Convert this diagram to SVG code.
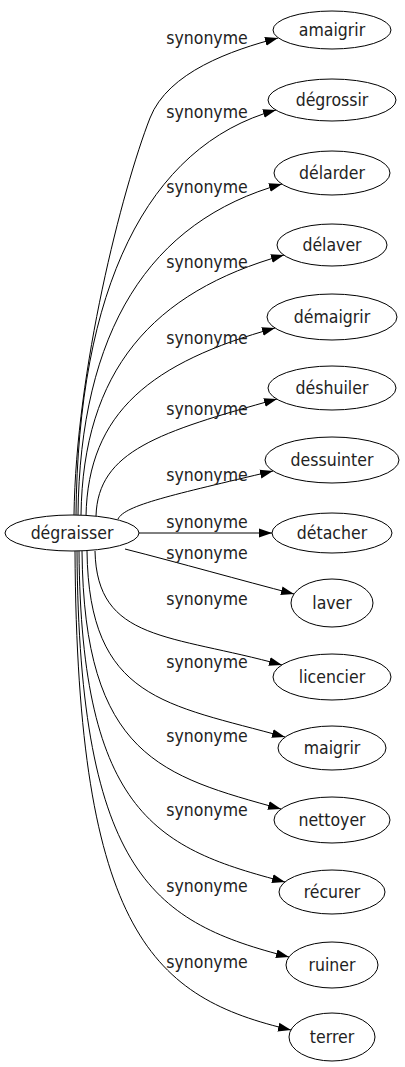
<svg xmlns="http://www.w3.org/2000/svg" width="405" height="1067" viewBox="0 0 405 1067">
<style>
.n ellipse{fill:#fff;stroke:#000;stroke-width:1}
text{font-family:"DejaVu Sans Condensed","DejaVu Sans","Liberation Sans",sans-serif;font-stretch:condensed;font-size:17.5px;fill:#222;text-anchor:middle}
.e path{fill:none;stroke:#000;stroke-width:1;marker-end:url(#arr)}
</style>
<defs>
<marker id="arr" viewBox="0 0 13 10" markerWidth="13" markerHeight="10" refX="13" refY="5" orient="auto" markerUnits="userSpaceOnUse"><path d="M0,0.5 L13,5 L0,9.5 z" fill="#000"/></marker>
</defs>
<rect width="405" height="1067" fill="#fff"/>
<g class="e" id="edges">
<path d="M74,515 C76,370 122,190 150,118 C168,72 232,50 278,38"/>
<path d="M76,515 C78,290 146,146 276,110"/>
<path d="M78,515 C80,331 149,221 282,184"/>
<path d="M81,515 C83,371 152,292 284,255"/>
<path d="M86,516 C88,412 152,362 275,328"/>
<path d="M96,516 C98,451 159,432 277,399"/>
<path d="M118,519 C125,505 172,495 273,471"/>
<path d="M139,533 L272,533"/>
<path d="M125,549 C180,563 240,580 294,594"/>
<path d="M95,551 C97,642 170,634 282,665"/>
<path d="M87,551 C89,700 166,704 285,737"/>
<path d="M82,551 C84,757 162,776 281,809"/>
<path d="M79,551 C81,816 159,849 285,882"/>
<path d="M77,551 C79,878 157,923 289,957"/>
<path d="M75,551 C77,936 155,998 291,1030"/>
<text x="207" y="44">synonyme</text>
<text x="207" y="118">synonyme</text>
<text x="207" y="193">synonyme</text>
<text x="207" y="268">synonyme</text>
<text x="207" y="344">synonyme</text>
<text x="207" y="415">synonyme</text>
<text x="207" y="481">synonyme</text>
<text x="207" y="528">synonyme</text>
<text x="207" y="559">synonyme</text>
<text x="207" y="605">synonyme</text>
<text x="207" y="668">synonyme</text>
<text x="207" y="742">synonyme</text>
<text x="207" y="816">synonyme</text>
<text x="207" y="892">synonyme</text>
<text x="207" y="968">synonyme</text>
</g>
<g class="n" id="n0"><ellipse cx="72" cy="533" rx="67" ry="18"/><text x="72" y="539">dégraisser</text></g>
<g class="n" id="n1"><ellipse cx="332" cy="30" rx="59" ry="19"/><text x="332" y="36">amaigrir</text></g>
<g class="n" id="n2"><ellipse cx="332" cy="100" rx="64" ry="21"/><text x="332" y="106">dégrossir</text></g>
<g class="n" id="n3"><ellipse cx="332" cy="173" rx="58" ry="22"/><text x="332" y="179">délarder</text></g>
<g class="n" id="n4"><ellipse cx="332" cy="245" rx="55" ry="21"/><text x="332" y="251">délaver</text></g>
<g class="n" id="n5"><ellipse cx="332" cy="317" rx="65" ry="23"/><text x="332" y="323">démaigrir</text></g>
<g class="n" id="n6"><ellipse cx="332" cy="388" rx="64" ry="22"/><text x="332" y="394">déshuiler</text></g>
<g class="n" id="n7"><ellipse cx="332" cy="460" rx="67" ry="23"/><text x="332" y="466">dessuinter</text></g>
<g class="n" id="n8"><ellipse cx="332" cy="533" rx="60" ry="20"/><text x="332" y="539">détacher</text></g>
<g class="n" id="n9"><ellipse cx="332" cy="603" rx="41" ry="24"/><text x="332" y="609">laver</text></g>
<g class="n" id="n10"><ellipse cx="332" cy="677" rx="59" ry="23"/><text x="332" y="683">licencier</text></g>
<g class="n" id="n11"><ellipse cx="332" cy="748" rx="54" ry="22"/><text x="332" y="754">maigrir</text></g>
<g class="n" id="n12"><ellipse cx="332" cy="820" rx="58" ry="23"/><text x="332" y="826">nettoyer</text></g>
<g class="n" id="n13"><ellipse cx="332" cy="892" rx="53" ry="22"/><text x="332" y="898">récurer</text></g>
<g class="n" id="n14"><ellipse cx="332" cy="965" rx="46" ry="23"/><text x="332" y="971">ruiner</text></g>
<g class="n" id="n15"><ellipse cx="332" cy="1037" rx="43" ry="24"/><text x="332" y="1043">terrer</text></g>
</svg>
